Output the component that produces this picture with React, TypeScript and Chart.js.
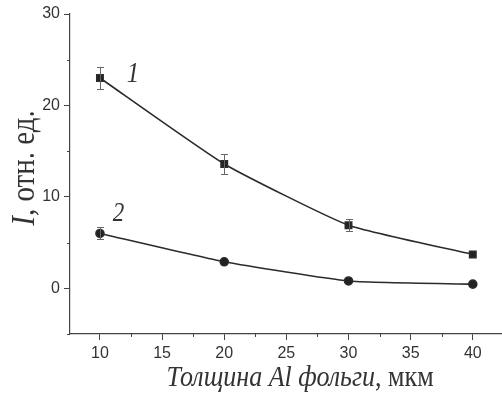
import React, { useEffect, useRef } from "react";
import { Chart, registerables } from "chart.js";

Chart.register(...registerables);

const thickness = [10, 20, 30, 40];
const series1 = [23.0, 13.6, 6.9, 3.7];
const series1Err = [1.15, 1.05, 0.65, 0];
const series2 = [6.0, 2.9, 0.8, 0.45];
const series2Err = [0.65, 0, 0, 0];
const seriesLabels = ["1", "2"];
const labelAnchors = [
  { x: 12.65, y: 23.4 },
  { x: 11.5, y: 8.1 },
];
const xTitleItalic = "Толщина Al фольги";
const xTitleRegular = ", мкм";
const yTitleItalic = "I";
const yTitleRegular = ", отн. ед.";
const xMajor = [10, 15, 20, 25, 30, 35, 40];
const yMajor = [0, 10, 20, 30];

const INK = "#2b2b2b";
const SERIF = "'Liberation Serif', 'Times New Roman', serif";
const SANS = "'Liberation Sans', Arial, sans-serif";

const extras = {
  id: "extras",
  afterDatasetsDraw(chart: any) {
    const ctx = chart.ctx;
    const xs = chart.scales.x;
    const ys = chart.scales.y;
    const area = chart.chartArea;
    ctx.save();
    // error bars
    const errs = [series1Err, series2Err];
    const vals = [series1, series2];
    ctx.strokeStyle = "#666";
    ctx.lineWidth = 1;
    errs.forEach((eArr, si) => {
      eArr.forEach((e, i) => {
        if (!e) return;
        const px = Math.round(xs.getPixelForValue(thickness[i])) + 0.5;
        const top = Math.round(ys.getPixelForValue(vals[si][i] + e)) + 0.5;
        const bot = Math.round(ys.getPixelForValue(vals[si][i] - e)) + 0.5;
        ctx.beginPath();
        ctx.moveTo(px, top);
        ctx.lineTo(px, bot);
        ctx.moveTo(px - 3.5, top);
        ctx.lineTo(px + 3.5, top);
        ctx.moveTo(px - 3.5, bot);
        ctx.lineTo(px + 3.5, bot);
        ctx.stroke();
      });
    });
    // minor ticks
    ctx.strokeStyle = "#444";
    ctx.lineWidth = 1;
    ctx.beginPath();
    for (let v = 7.5; v <= 42.5; v += 2.5) {
      if (xMajor.includes(v) || v < xs.min || v > xs.max) continue;
      const px = Math.round(xs.getPixelForValue(v)) + 0.5;
      ctx.moveTo(px, area.bottom);
      ctx.lineTo(px, area.bottom + 3);
    }
    for (let v = -5; v <= 30; v += 5) {
      if (yMajor.includes(v)) continue;
      const py = Math.round(ys.getPixelForValue(v)) + 0.5;
      ctx.moveTo(area.left, py);
      ctx.lineTo(area.left - 3, py);
    }
    ctx.stroke();
    // series labels
    ctx.fillStyle = "#333";
    ctx.textAlign = "center";
    ctx.textBaseline = "middle";
    seriesLabels.forEach((t, i) => {
      ctx.save();
      ctx.translate(xs.getPixelForValue(labelAnchors[i].x), ys.getPixelForValue(labelAnchors[i].y));
      ctx.scale(1, 1.15);
      ctx.font = `italic ${i === 0 ? 25 : 23}px ${SERIF}`;
      ctx.fillText(t, 0, 0);
      ctx.restore();
    });
    // x title
    ctx.textAlign = "left";
    ctx.textBaseline = "alphabetic";
    const fi = `italic 26px ${SERIF}`;
    const fr = `26px ${SERIF}`;
    ctx.font = fi;
    const w1 = ctx.measureText(xTitleItalic).width;
    ctx.font = fr;
    const w2 = ctx.measureText(xTitleRegular).width;
    const cx = 300;
    const x0 = cx - (w1 + w2) / 2;
    ctx.save();
    ctx.translate(0, 386);
    ctx.scale(1, 1.15);
    ctx.font = fi;
    ctx.fillText(xTitleItalic, x0, 0);
    ctx.font = fr;
    ctx.fillText(xTitleRegular, x0 + w1, 0);
    ctx.restore();
    // y title
    ctx.save();
    ctx.translate(34, 168);
    ctx.rotate(-Math.PI / 2);
    ctx.scale(1, 1.15);
    const gi = `italic 29px ${SERIF}`;
    const gr = `29px ${SERIF}`;
    ctx.font = gi;
    const v1 = ctx.measureText(yTitleItalic).width;
    ctx.font = gr;
    const v2 = ctx.measureText(yTitleRegular).width;
    const y0 = -(v1 + v2) / 2;
    ctx.font = gi;
    ctx.fillText(yTitleItalic, y0, 0);
    ctx.font = gr;
    ctx.fillText(yTitleRegular, y0 + v1, 0);
    ctx.restore();
    ctx.restore();
  },
};

export default function App() {
  const ref = useRef<HTMLCanvasElement>(null);
  useEffect(() => {
    if (!ref.current) return;
    const chart = new Chart(ref.current, {
      type: "line",
      data: {
        datasets: [
          {
            data: thickness.map((x, i) => ({ x, y: series1[i] })),
            borderColor: INK,
            backgroundColor: "#222",
            borderWidth: 1.6,
            pointStyle: "rect",
            pointRadius: 4.5,
            tension: 0.15,
          },
          {
            data: thickness.map((x, i) => ({ x, y: series2[i] })),
            borderColor: INK,
            backgroundColor: "#222",
            borderWidth: 1.6,
            pointStyle: "circle",
            pointRadius: 4,
            tension: 0.15,
          },
        ],
      },
      options: {
        animation: false,
        responsive: false,
        maintainAspectRatio: false,
        layout: { autoPadding: false, padding: { top: 14, right: 0, left: 0, bottom: 0 } },
        plugins: { legend: { display: false }, tooltip: { enabled: false } },
        scales: {
          x: {
            type: "linear",
            min: 7.59,
            max: 42.35,
            afterFit: (s: any) => {
              s.height = 59;
              s.paddingRight = 0;
              s.paddingLeft = 0;
            },
            afterBuildTicks: (s: any) => {
              s.ticks = xMajor.map((v) => ({ value: v }));
            },
            ticks: {
              color: "#333",
              font: { family: SANS, size: 16 },
              padding: 4,
              maxRotation: 0,
            },
            grid: { drawOnChartArea: false, tickLength: 6, tickColor: "#444" },
            border: { color: "#444", width: 1.2 },
          },
          y: {
            min: -5,
            max: 30,
            afterFit: (s: any) => {
              s.width = 70;
            },
            afterBuildTicks: (s: any) => {
              s.ticks = yMajor.map((v) => ({ value: v }));
            },
            ticks: {
              color: "#333",
              font: { family: SANS, size: 16 },
              padding: 4,
            },
            grid: { drawOnChartArea: false, tickLength: 6, tickColor: "#444" },
            border: { color: "#444", width: 1.2 },
          },
        },
      },
      plugins: [extras],
    } as any);
    return () => chart.destroy();
  }, []);
  return (
    <div style={{ position: "fixed", left: 0, top: 0, width: 502, height: 393, background: "#fff" }}>
      <canvas ref={ref} width={502} height={393} style={{ width: 502, height: 393 }} />
    </div>
  );
}
